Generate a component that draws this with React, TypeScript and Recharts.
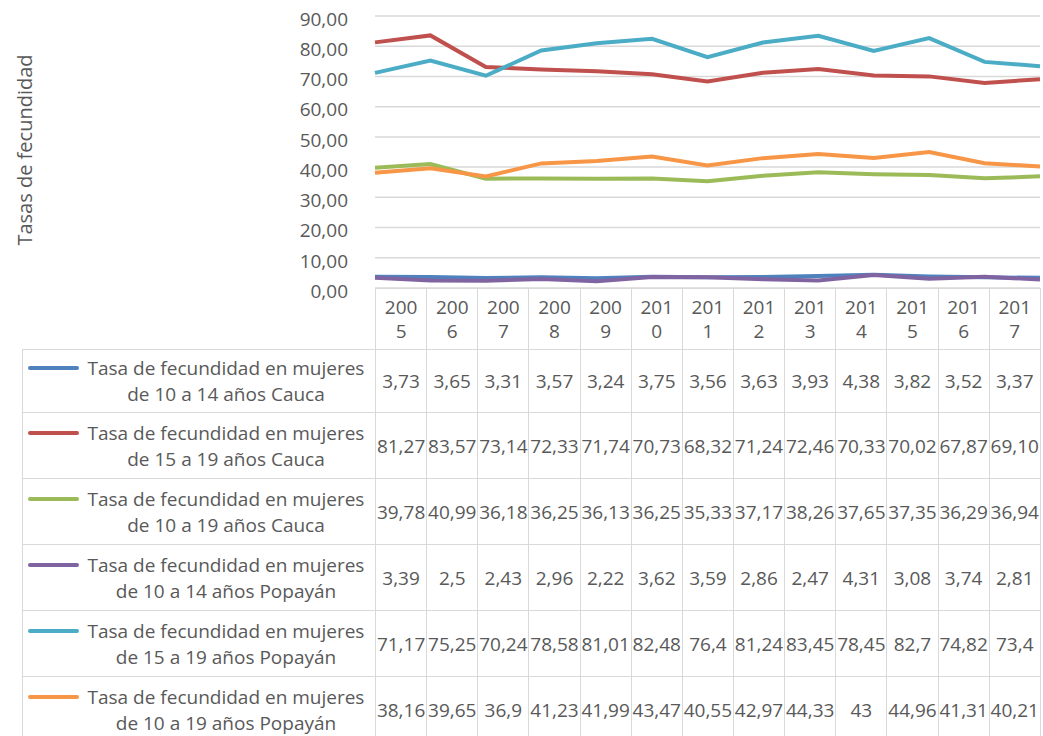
import React from "react";
import { LineChart, Line, XAxis, YAxis, CartesianGrid } from "recharts";

const YEARS = ["2005", "2006", "2007", "2008", "2009", "2010", "2011", "2012", "2013", "2014", "2015", "2016", "2017"];
const Y_TICKS = [0, 10, 20, 30, 40, 50, 60, 70, 80, 90];

const cauca1014 = [3.73, 3.65, 3.31, 3.57, 3.24, 3.75, 3.56, 3.63, 3.93, 4.38, 3.82, 3.52, 3.37];
const cauca1519 = [81.27, 83.57, 73.14, 72.33, 71.74, 70.73, 68.32, 71.24, 72.46, 70.33, 70.02, 67.87, 69.1];
const cauca1019 = [39.78, 40.99, 36.18, 36.25, 36.13, 36.25, 35.33, 37.17, 38.26, 37.65, 37.35, 36.29, 36.94];
const popayan1014 = [3.39, 2.5, 2.43, 2.96, 2.22, 3.62, 3.59, 2.86, 2.47, 4.31, 3.08, 3.74, 2.81];
const popayan1519 = [71.17, 75.25, 70.24, 78.58, 81.01, 82.48, 76.4, 81.24, 83.45, 78.45, 82.7, 74.82, 73.4];
const popayan1019 = [38.16, 39.65, 36.9, 41.23, 41.99, 43.47, 40.55, 42.97, 44.33, 43, 44.96, 41.31, 40.21];

// the data table shows the values as typed in the sheet (some without decimals)
const cauca1519Text = ["81,27", "83,57", "73,14", "72,33", "71,74", "70,73", "68,32", "71,24", "72,46", "70,33", "70,02", "67,87", "69,10"];

const SERIES = [
  { key: "s1", line1: "Tasa de fecundidad en mujeres", line2: "de 10 a 14 años Cauca", values: cauca1014 },
  { key: "s2", line1: "Tasa de fecundidad en mujeres", line2: "de 15 a 19 años Cauca", values: cauca1519, text: cauca1519Text },
  { key: "s3", line1: "Tasa de fecundidad en mujeres", line2: "de 10 a 19 años Cauca", values: cauca1019 },
  { key: "s4", line1: "Tasa de fecundidad en mujeres", line2: "de 10 a 14 años Popayán", values: popayan1014 },
  { key: "s5", line1: "Tasa de fecundidad en mujeres", line2: "de 15 a 19 años Popayán", values: popayan1519 },
  { key: "s6", line1: "Tasa de fecundidad en mujeres", line2: "de 10 a 19 años Popayán", values: popayan1019 }
];

const COLORS = ["#4F81BD", "#C0504D", "#9BBB59", "#8064A2", "#4BACC6", "#F79646"];

const FONT = '"Open Sans", sans-serif';
const TEXT = "#595959";
const GRID = "#D9D9D9";

const data = YEARS.map((year, i) => {
  const row: Record<string, string | number> = { year };
  SERIES.forEach((s) => {
    row[s.key] = s.values[i];
  });
  return row;
});

const fmt = (v: number) => String(v).replace(".", ",");

const PLOT_LEFT = 375;
const LEGEND_W = 353;
const COL_W = 51.15;

const cell: React.CSSProperties = {
  border: `1px solid ${GRID}`,
  padding: 0,
  textAlign: "center",
  whiteSpace: "nowrap",
  verticalAlign: "middle"
};

const App = () => {
  return (
    <div
      style={{
        position: "absolute",
        left: 0,
        top: 0,
        width: 1043,
        height: 736,
        overflow: "hidden",
        background: "#fff",
        fontFamily: FONT,
        color: TEXT
      }}
    >
      <svg width={60} height={300} style={{ position: "absolute", left: 0, top: 0 }}>
        <text
          x={0}
          y={0}
          transform="translate(32,150) rotate(-90)"
          textAnchor="middle"
          fontSize={20}
          fill={TEXT}
          fontFamily={FONT}
        >
          Tasas de fecundidad
        </text>
      </svg>

      <div style={{ position: "absolute", left: 0, top: 0 }}>
        <LineChart width={1043} height={312} data={data} margin={{ top: 16, right: 3, left: 0, bottom: 24 }}>
          <CartesianGrid vertical={false} stroke={GRID} strokeWidth={1.5} />
          <XAxis dataKey="year" hide />
          <YAxis
            width={PLOT_LEFT}
            domain={[0, 90]}
            ticks={Y_TICKS}
            interval={0}
            axisLine={false}
            tickLine={false}
            tickSize={0}
            tickMargin={27}
            tickFormatter={(v: number) => v.toFixed(2).replace(".", ",")}
            tick={{ fill: TEXT, fontSize: 19, fontFamily: FONT, dy: 3 }}
          />
          {SERIES.map((s, i) => (
            <Line
              key={s.key}
              dataKey={s.key}
              type="linear"
              stroke={COLORS[i]}
              strokeWidth={4}
              dot={false}
              activeDot={false}
              isAnimationActive={false}
            />
          ))}
        </LineChart>
      </div>

      <table
        style={{
          position: "absolute",
          left: 22,
          top: 288,
          borderCollapse: "collapse",
          tableLayout: "fixed",
          width: LEGEND_W + COL_W * YEARS.length,
          fontSize: 19,
          lineHeight: "24px",
          fontFamily: FONT,
          color: TEXT
        }}
      >
        <colgroup>
          <col style={{ width: LEGEND_W }} />
          {YEARS.map((y) => (
            <col key={y} style={{ width: COL_W }} />
          ))}
        </colgroup>
        <tbody>
          <tr style={{ height: 61 }}>
            <td style={{ border: "none", padding: 0 }} />
            {YEARS.map((y) => (
              <td key={y} style={cell}>
                {y.slice(0, 3)}
                <br />
                {y.slice(3)}
              </td>
            ))}
          </tr>
          {SERIES.map((s, i) => (
            <tr key={s.key} style={{ height: i === 0 ? 63 : 66 }}>
              <td style={{ ...cell, textAlign: "left" }}>
                <div style={{ display: "flex", alignItems: "flex-start" }}>
                  <div
                    style={{
                      width: 51,
                      height: 4,
                      marginTop: 11,
                      marginLeft: 5,
                      borderRadius: 2,
                      background: COLORS[i],
                      flex: "none"
                    }}
                  />
                  <div style={{ flex: 1, textAlign: "center", paddingRight: 2, lineHeight: "26px" }}>
                    {s.line1}
                    <br />
                    {s.line2}
                  </div>
                </div>
              </td>
              {s.values.map((v, j) => (
                <td key={j} style={cell}>
                  {s.text ? s.text[j] : fmt(v)}
                </td>
              ))}
            </tr>
          ))}
        </tbody>
      </table>
    </div>
  );
};

export default App;
